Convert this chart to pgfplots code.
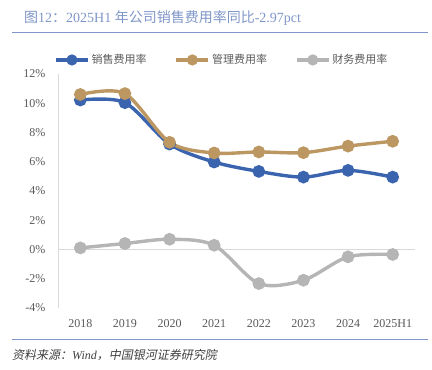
\documentclass[border=0pt]{standalone}
\usepackage{fontspec}
\setmainfont{Liberation Serif}
\newfontfamily\cjk{Noto Sans CJK SC}
\newfontfamily\cjkit[FakeSlant=0.2]{Noto Sans CJK SC}
\usepackage{pgfplots}
\pgfplotsset{compat=1.18}
\definecolor{cblue}{HTML}{3B64AF}
\definecolor{ctan}{HTML}{BD9762}
\definecolor{cgrey}{HTML}{B5B5B5}
\definecolor{ctitle}{HTML}{7F96C8}
\definecolor{ctick}{HTML}{595959}
\definecolor{caxis}{HTML}{D9D9D9}
\definecolor{csrc}{HTML}{404040}
\begin{document}
\begin{tikzpicture}
\path[use as bounding box] (0pt,0pt) rectangle (432pt,370pt);
\node[anchor=west, text=ctitle, font=\fontsize{14}{16}\selectfont, inner sep=0] at (24pt,352pt)
  {{\cjk 图}12{\cjk ：}2025H1 {\cjk 年公司销售费用率同比}-2.97pct};
\draw[ctitle, line width=1pt] (12pt,337pt) -- (428pt,337pt);
\draw[ctitle, line width=1pt] (12pt,30pt) -- (428pt,30pt);
\node[anchor=west, inner sep=0, font=\fontsize{12}{14}\selectfont, text=csrc] at (12pt,15pt)
  {{\cjkit 资料来源：}\textit{Wind}{\cjkit ，中国银河证券研究院}};
\begin{axis}[
  at={(58pt,62pt)}, anchor=south west, scale only axis,
  width=357pt, height=234pt,
  xmin=-0.5, xmax=7.5, ymin=-4, ymax=12,
  ytick={-4,-2,0,2,4,6,8,10,12},
  yticklabel={\pgfmathprintnumber{\tick}\%},
  xtick={0,1,2,3,4,5,6,7},
  xticklabels={2018,2019,2020,2021,2022,2023,2024,2025H1},
  axis lines*=left,
  x axis line style={draw=none},
  y axis line style={draw=caxis, line width=0.8pt},
  major tick length=0pt,
  /pgf/number format/assume math mode=true,
  tick label style={font=\fontsize{12}{14}\selectfont, text=ctick},
  yticklabel style={xshift=-9pt},
  xticklabel style={yshift=-8pt},
  extra y ticks={0}, extra y tick labels={},
  extra y tick style={grid=major, major grid style={draw=caxis, line width=0.8pt}},
  clip=false,
  legend columns=3,
  legend style={draw=none, fill=none, at={(-0.011,1.06)}, anchor=west,
    font=\cjk\fontsize{11}{13}\selectfont, text=ctick, inner sep=0pt,
    /tikz/every even column/.append style={column sep=26pt}},
  legend image code/.code={\draw[#1, mark repeat=2, mark phase=2, mark size=3.8pt] plot coordinates {(0pt,0pt) (16pt,0pt) (32pt,0pt)};},
]
\addplot[cblue, line width=3.4pt, smooth, mark=*, mark size=4.6pt, mark options={solid}]
  coordinates {(0,10.22) (1,10.04) (2,7.21) (3,5.98) (4,5.34) (5,4.95) (6,5.41) (7,4.95)};
\addlegendentry{销售费用率}
\addplot[ctan, line width=3.4pt, smooth, mark=*, mark size=4.6pt, mark options={solid}]
  coordinates {(0,10.6) (1,10.66) (2,7.33) (3,6.6) (4,6.67) (5,6.62) (6,7.07) (7,7.4)};
\addlegendentry{管理费用率}
\addplot[cgrey, line width=3.4pt, smooth, mark=*, mark size=4.6pt, mark options={solid}]
  coordinates {(0,0.11) (1,0.41) (2,0.7) (3,0.29) (4,-2.33) (5,-2.1) (6,-0.5) (7,-0.34)};
\addlegendentry{财务费用率}
\end{axis}
\end{tikzpicture}
\end{document}
